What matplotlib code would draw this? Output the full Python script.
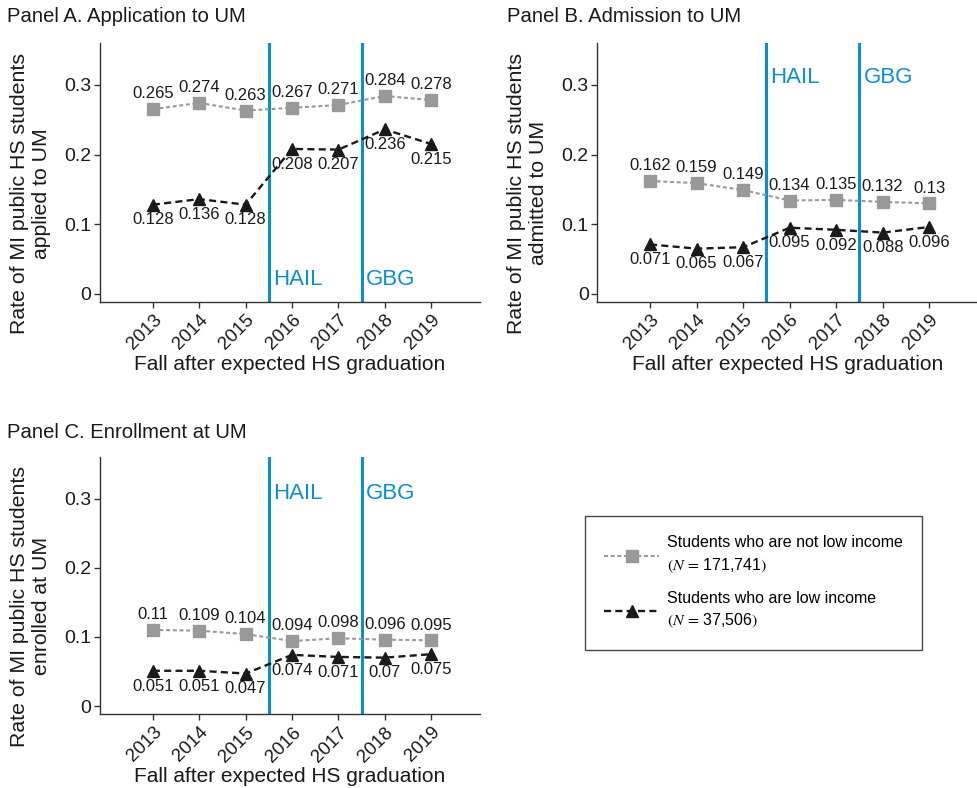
import matplotlib
matplotlib.use("Agg")
import matplotlib.pyplot as plt
from matplotlib.lines import Line2D

plt.rcParams['font.family'] = ['Liberation Sans', 'DejaVu Sans']
plt.rcParams['mathtext.fontset'] = 'stix'

years = [2013, 2014, 2015, 2016, 2017, 2018, 2019]

# Panel A: application
app_not_low = [0.265, 0.274, 0.263, 0.267, 0.271, 0.284, 0.278]
app_low = [0.128, 0.136, 0.128, 0.208, 0.207, 0.236, 0.215]
# Panel B: admission
adm_not_low = [0.162, 0.159, 0.149, 0.134, 0.135, 0.132, 0.13]
adm_low = [0.071, 0.065, 0.067, 0.095, 0.092, 0.088, 0.096]
# Panel C: enrollment
enr_not_low = [0.11, 0.109, 0.104, 0.094, 0.098, 0.096, 0.095]
enr_low = [0.051, 0.051, 0.047, 0.074, 0.071, 0.07, 0.075]

policy_years = [2015.5, 2017.5]
policy_names = ["HAIL", "GBG"]

GRAY = "#999999"
DARK = "#1a1a1a"
BLUE = "#0a8fd1"
AXC = "#333333"

fig = plt.figure(figsize=(9.78, 7.88), dpi=100)

panels = [
    ("Panel A. Application to UM", "applied to UM", app_not_low, app_low,
     [0.1022, 0.6168, 0.3885, 0.3287], (7, 17), 0.02),
    ("Panel B. Admission to UM", "admitted to UM", adm_not_low, adm_low,
     [0.6104, 0.6168, 0.3896, 0.3287], (507, 17), 0.31),
    ("Panel C. Enrollment at UM", "enrolled at UM", enr_not_low, enr_low,
     [0.1022, 0.0939, 0.3885, 0.3261], (7, 432), 0.307),
]

for title, ylab2, gray_vals, dark_vals, rect, tpos, label_y in panels:
    ax = fig.add_axes(rect)
    for xv, name in zip(policy_years, policy_names):
        ax.axvline(xv, color=BLUE, lw=2.2, zorder=1)
        ax.text(xv + 0.09, label_y, name, color=BLUE, fontsize=16,
                ha='left', va='center')

    ax.plot(years, gray_vals, color=GRAY, lw=1.5, dashes=(1.9, 1.3),
            marker='s', ms=8, mec=GRAY, mfc=GRAY, zorder=3)
    ax.plot(years, dark_vals, color=DARK, lw=1.7, dashes=(3.0, 1.8),
            marker='^', ms=9, mec=DARK, mfc=DARK, zorder=3)

    for x, v in zip(years, gray_vals):
        ax.annotate(f"{v:g}", (x, v), xytext=(0, 11), textcoords='offset points',
                    ha='center', va='center', fontsize=12, color=DARK)
    for x, v in zip(years, dark_vals):
        ax.annotate(f"{v:g}", (x, v), xytext=(0, -11), textcoords='offset points',
                    ha='center', va='center', fontsize=12, color=DARK)

    ax.set_xlim(2011.86, 2020.05)
    ax.set_ylim(-0.0115, 0.36)
    ax.set_xticks(years)
    ax.set_xticklabels([str(y) for y in years], rotation=45, ha='right',
                       rotation_mode='anchor', fontsize=13.5, color=DARK)
    ax.set_yticks([0, 0.1, 0.2, 0.3])
    ax.set_yticklabels(["0", "0.1", "0.2", "0.3"], fontsize=14, color=DARK)
    ax.tick_params(axis='both', length=4, width=1, color=AXC)
    ax.tick_params(axis='x', pad=3)
    ax.tick_params(axis='y', pad=2)
    for s in ['top', 'right']:
        ax.spines[s].set_visible(False)
    for s in ['left', 'bottom']:
        ax.spines[s].set_color(AXC)
        ax.spines[s].set_linewidth(1)

    ax.set_ylabel("Rate of MI public HS students\n" + ylab2, fontsize=15.3,
                  color=DARK, linespacing=1.2)
    ax.yaxis.set_label_coords(-0.128, 0.42)
    ax.set_xlabel("Fall after expected HS graduation", fontsize=15, color=DARK)
    ax.xaxis.set_label_coords(0.5, -0.205)
    ax.xaxis.label.set_va('top')

    fig.text(tpos[0] / 978, 1 - tpos[1] / 788, title, fontsize=14.6,
             ha='left', va='center', color=DARK)

handles = [
    Line2D([], [], color=GRAY, lw=1.5, dashes=(1.9, 1.3), marker='s',
           ms=8, mec=GRAY, mfc=GRAY),
    Line2D([], [], color=DARK, lw=1.7, dashes=(3.0, 1.8), marker='^',
           ms=9, mec=DARK, mfc=DARK),
]
labels = [
    "Students who are not low income\n" + r"$(N\,=\,$171,741$)$",
    "Students who are low income\n" + r"$(N\,=\,$37,506$)$",
]
leg = fig.legend(handles, labels, loc='center', bbox_to_anchor=(0.7705, 0.2602),
                 fontsize=11.5, frameon=True, fancybox=False, edgecolor=DARK,
                 borderpad=1.2, labelspacing=1.0, handlelength=3.4,
                 handletextpad=0.5, borderaxespad=0)
leg.get_frame().set_linewidth(1.0)
for t in leg.get_texts():
    t.set_linespacing(1.45)

fig.savefig("out.png", dpi=100)
